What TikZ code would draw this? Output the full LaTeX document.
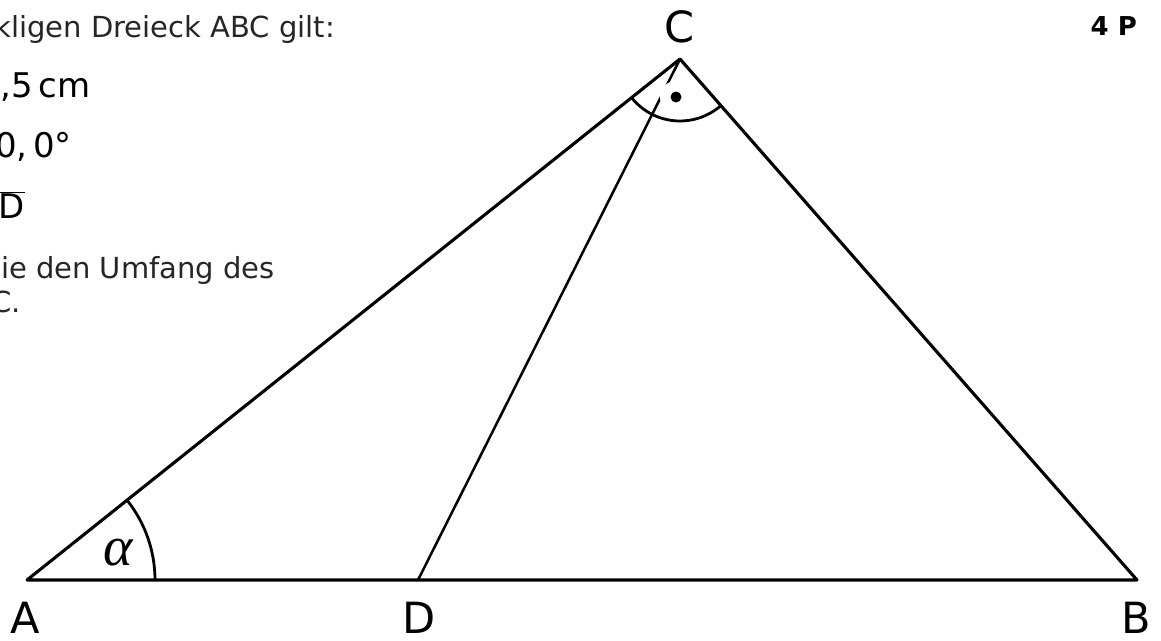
\documentclass[tikz,border=0pt]{standalone}
\usepackage{fontspec}
\setmainfont{DejaVu Sans}
\newfontfamily\greekfont{Liberation Serif}
\begin{document}
\begin{tikzpicture}[x=1pt,y=-1pt,
  side/.style={line width=3.1pt,line join=round},
  cevian/.style={line width=2.5pt},
  anglearc/.style={line width=2.8pt},
  vlabel/.style={font=\fontsize{43}{48}\selectfont,inner sep=0pt,anchor=base,text depth=0pt},
  smalltxt/.style={font=\fontsize{29}{34}\selectfont,inner sep=0pt,anchor=base east,text=black!85},
  bigtxt/.style={font=\fontsize{34}{40}\selectfont,inner sep=0pt,anchor=base east}]
\useasboundingbox (0,0) rectangle (1161,640);
% vertices
\coordinate (A) at (27,580);
\coordinate (B) at (1137,580);
\coordinate (C) at (680,59);
\coordinate (D) at (418,580);
% triangle and cevian
\draw[side] (A) -- (B) -- (C) -- cycle;
\draw[cevian] (C) -- (D);
% angle arcs
\draw[anglearc] ([shift={(0:128)}]A) arc[start angle=0,end angle=-38.6,radius=128];
\draw[anglearc] ([shift={(141.4:62)}]C) arc[start angle=141.4,end angle=48.8,radius=62];
% right-angle dot with white background
\node[circle,fill=white,minimum size=32pt,inner sep=0pt] (dot) at (676,97) {};
\fill (dot.center) circle (5.5);
% vertex labels
\node[vlabel] (lA) at (25,633) {A};
\node[vlabel] (lB) at (1136,633) {B};
\node[vlabel] (lC) at (680,42) {C};
\node[vlabel] (lD) at (419,633) {D};
\node[font=\greekfont\itshape\fontsize{56}{60}\selectfont,inner sep=0pt,anchor=base] (alpha) at (118,565) {α};
% text at top left (cut off)
\node[smalltxt] (t1) at (335,37) {kligen Dreieck ABC gilt:};
\node[bigtxt] (t2) at (91,97) {,5\,cm};
\node[bigtxt] (t3) at (72,157) {0,\,0°};
\node[bigtxt] (t4) at (25,218) {$\overline{\mbox{D}}$};
\node[smalltxt] (t5) at (275,278) {ie den Umfang des};
\node[smalltxt] (t6) at (21,312) {C.};
% points
\node[font=\bfseries\fontsize{26}{30}\selectfont,inner sep=0pt,anchor=base east] (pts) at (1137,35) {4 P};
\end{tikzpicture}
\end{document}
